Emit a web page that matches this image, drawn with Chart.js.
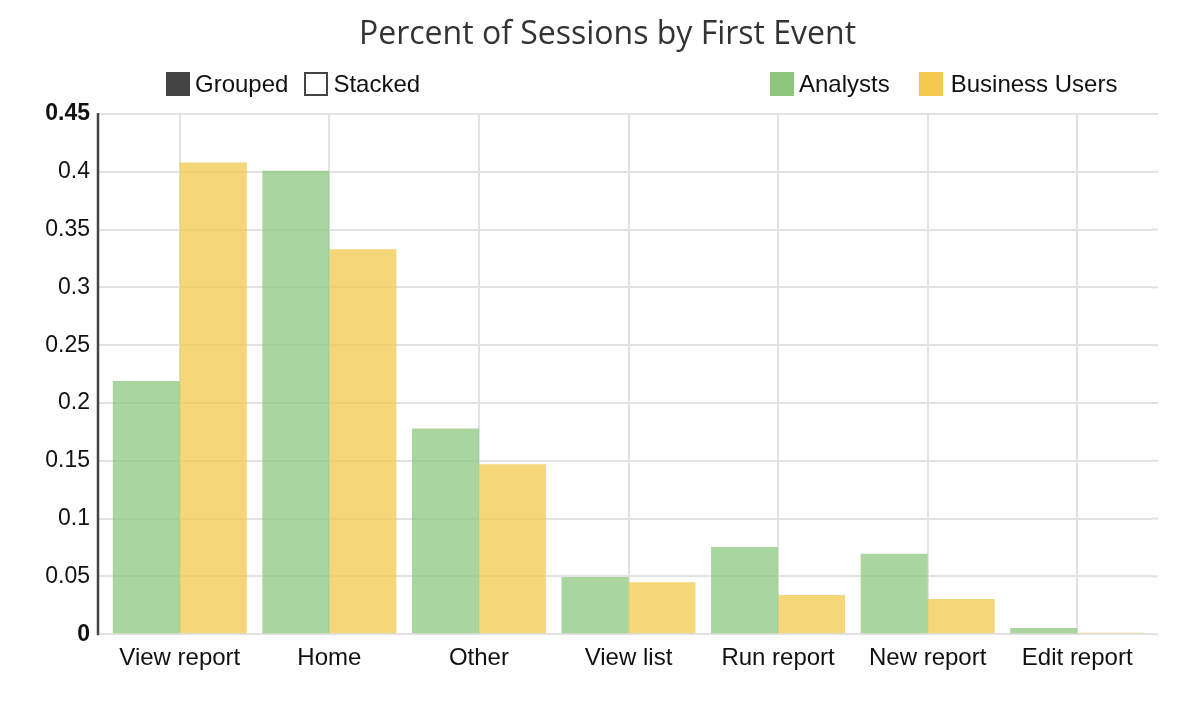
<!DOCTYPE html>
<html>
<head>
<meta charset="utf-8">
<script src="https://cdn.jsdelivr.net/npm/chart.js@4"></script>
<style>
    body { margin: 0; background: #fff; }
    #wrap { position: relative; width: 1202px; height: 720px; }
    #title { position: absolute; top: 12px; left: 0; width: 1215px; text-align: center;
        font-family: "Open Sans", sans-serif; font-size: 32px; line-height: 40px; color: #333; }
    .legend { position: absolute; top: 72px; display: flex; align-items: center;
        font-family: "Liberation Sans", Arial, sans-serif; font-size: 24px; color: #111; line-height: 24px; }
    .legend .item { display: flex; align-items: center; }
    .legend .box { width: 24px; height: 24px; box-sizing: border-box; margin-right: 5px; }
    #modeLegend { left: 166px; }
    #modeLegend .item + .item { margin-left: 16px; }
    #seriesLegend { left: 770px; }
    #seriesLegend .item + .item { margin-left: 29px; }
    #seriesLegend .item + .item .box { margin-right: 8px; }
</style>
</head>
<body>
<div id="wrap">
    <canvas id="sessionsChart" width="1202" height="720"></canvas>
    <div id="title">Percent of Sessions by First Event</div>
    <div class="legend" id="modeLegend">
        <div class="item"><span class="box" style="background:#444"></span>Grouped</div>
        <div class="item"><span class="box" style="border:2.5px solid #444;background:#fff"></span>Stacked</div>
    </div>
    <div class="legend" id="seriesLegend"></div>
</div>
<script>
const categories = ["View report", "Home", "Other", "View list", "Run report", "New report", "Edit report"];
const analysts = [0.219, 0.401, 0.178, 0.0495, 0.0755, 0.0695, 0.0053];
const businessUsers = [0.408, 0.333, 0.147, 0.045, 0.034, 0.0305, 0.0012];
const seriesNames = ["Analysts", "Business Users"];
const seriesColors = ["#8dc77e", "#f2c94c"];
const barColors = ["rgba(140, 199, 126, 0.75)", "rgba(242, 201, 76, 0.75)"];
const yTicks = ["0", "0.05", "0.1", "0.15", "0.2", "0.25", "0.3", "0.35", "0.4", "0.45"];

const gridColor = "#e2e2e2";
const fontFamily = "'Liberation Sans', Arial, sans-serif";

// series legend built from the names/colours above
const seriesLegend = document.getElementById("seriesLegend");
seriesNames.forEach((name, i) => {
    const item = document.createElement("div");
    item.className = "item";
    item.innerHTML = '<span class="box" style="background:' + seriesColors[i] + '"></span>' + name;
    seriesLegend.appendChild(item);
});

// dark y axis line and the small gridline overhang on the right
const axisExtras = {
    id: "axisExtras",
    beforeDatasetsDraw(chart) {
        const { ctx, chartArea, scales: { y } } = chart;
        ctx.save();
        ctx.strokeStyle = gridColor;
        ctx.lineWidth = 2;
        y.ticks.forEach(t => {
            const py = y.getPixelForValue(t.value);
            ctx.beginPath();
            ctx.moveTo(chartArea.right, py);
            ctx.lineTo(chartArea.right + 6, py);
            ctx.stroke();
        });
        ctx.strokeStyle = "#444";
        ctx.lineWidth = 2.5;
        ctx.beginPath();
        ctx.moveTo(chartArea.left - 7, y.top - 1);
        ctx.lineTo(chartArea.left - 7, y.bottom + 1);
        ctx.stroke();
        ctx.restore();
    }
};

const ctx = document.getElementById("sessionsChart").getContext("2d");
new Chart(ctx, {
    type: "bar",
    data: {
        labels: categories,
        datasets: [
            { label: seriesNames[0], data: analysts, backgroundColor: barColors[0] },
            { label: seriesNames[1], data: businessUsers, backgroundColor: barColors[1] }
        ]
    },
    options: {
        responsive: false,
        animation: false,
        categoryPercentage: 0.896,
        barPercentage: 1,
        layout: {
            padding: { left: 0, right: 50, top: 114, bottom: 37 }
        },
        scales: {
            x: {
                grid: {
                    offset: false,
                    color: gridColor,
                    lineWidth: 2,
                    drawTicks: false
                },
                border: { display: false },
                ticks: {
                    padding: 10,
                    color: "#111",
                    font: { family: fontFamily, size: 24 }
                }
            },
            y: {
                min: 0,
                max: 0.45,
                afterFit: function (scale) {
                    scale.width = 105;
                },
                grid: {
                    color: gridColor,
                    lineWidth: 2,
                    tickLength: 7
                },
                border: { display: false },
                ticks: {
                    stepSize: 0.05,
                    padding: 8,
                    color: "#111",
                    font: function (c) {
                        const edge = c.index === 0 || c.index === yTicks.length - 1;
                        return { family: fontFamily, size: 23, weight: edge ? "bold" : "normal" };
                    },
                    callback: function (value, index) {
                        return yTicks[index];
                    }
                }
            }
        },
        plugins: {
            legend: { display: false },
            tooltip: { enabled: false },
            title: { display: false }
        }
    },
    plugins: [axisExtras]
});
</script>
</body>
</html>
